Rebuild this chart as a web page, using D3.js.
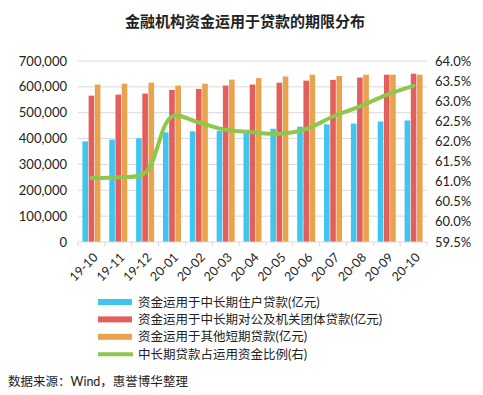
<!DOCTYPE html>
<html>
<head>
<meta charset="utf-8">
<script src="https://cdn.jsdelivr.net/npm/d3@7"></script>
<style>
body { margin: 0; background: #fff; }
text { font-family: Lato, "Noto Sans CJK SC", sans-serif; fill: #222; }
</style>
</head>
<body>
<svg></svg>
<script>
var width = 483,
    height = 395,
    margin = { top: 61, bottom: 153, left: 78, right: 56 }

var months = ["19-10", "19-11", "19-12", "20-01", "20-02", "20-03", "20-04", "20-05", "20-06", "20-07", "20-08", "20-09", "20-10"]
var household = [389000, 396000, 401000, 424000, 428000, 430000, 434000, 438000, 446000, 455000, 458000, 466000, 470000]
var corporate = [566000, 570000, 574000, 588000, 592000, 605000, 609000, 616000, 624000, 627000, 636000, 647000, 651000]
var shortTerm = [609000, 612000, 616000, 605000, 612000, 628000, 634000, 640000, 647000, 642000, 647000, 647000, 647000]
var ratio = [61.09, 61.11, 61.22, 62.62, 62.47, 62.29, 62.23, 62.19, 62.31, 62.62, 62.87, 63.16, 63.38]
var seriesNames = ["资金运用于中长期住户贷款(亿元)", "资金运用于中长期对公及机关团体贷款(亿元)", "资金运用于其他短期贷款(亿元)", "中长期贷款占运用资金比例(右)"]
var colors = ["#3fc5f0", "#e35f5b", "#e9a34e", "#8dc74b"]

var svg = d3.select("svg").attr("width", width).attr("height", height)
var plotW = width - margin.left - margin.right,
    plotH = height - margin.top - margin.bottom

svg.append("text")
    .attr("x", 245).attr("y", 27)
    .attr("text-anchor", "middle")
    .style("font-size", "15px").style("font-weight", "bold")
    .text("金融机构资金运用于贷款的期限分布")

var g = svg.append("g").attr("transform", "translate(" + margin.left + "," + margin.top + ")")

var x = d3.scaleBand().domain(months).range([0, plotW])
var yL = d3.scaleLinear().domain([0, 700000]).range([plotH, 0])
var yR = d3.scaleLinear().domain([59.5, 64]).range([plotH, 0])

// grid
g.selectAll(".grid").data(yL.ticks(7).slice(1))
    .enter().append("line")
    .attr("x1", 0).attr("x2", plotW)
    .attr("y1", d => yL(d)).attr("y2", d => yL(d))
    .attr("stroke", "#d9d9d9").attr("stroke-width", 1)

// bars
var barW = 5.6, gap = 0.6
var series = [household, corporate, shortTerm]
series.forEach(function(vals, i) {
    g.selectAll(".bar" + i).data(vals)
        .enter().append("rect")
        .attr("x", (d, j) => x(months[j]) + x.bandwidth() / 2 + (i - 1) * (barW + gap) - barW / 2)
        .attr("y", d => yL(d))
        .attr("width", barW)
        .attr("height", d => plotH - yL(d))
        .attr("fill", colors[i])
})

// line
var line = d3.line()
    .x((d, j) => x(months[j]) + x.bandwidth() / 2)
    .y(d => yR(d))
    .curve(d3.curveCatmullRom.alpha(0.5))
g.append("path").datum(ratio)
    .attr("d", line)
    .attr("fill", "none")
    .attr("stroke", colors[3])
    .attr("stroke-width", 4)
    .attr("stroke-linecap", "round")

// x axis
var xAxis = g.append("g").attr("transform", "translate(0," + plotH + ")")
xAxis.append("line").attr("x1", 0).attr("x2", plotW).attr("stroke", "#d9d9d9")
xAxis.selectAll(".tk").data(months.concat(["end"]))
    .enter().append("line")
    .attr("x1", (d, j) => j * x.bandwidth()).attr("x2", (d, j) => j * x.bandwidth())
    .attr("y1", 0).attr("y2", 4).attr("stroke", "#d9d9d9")
xAxis.selectAll(".lbl").data(months)
    .enter().append("text")
    .attr("transform", d => "translate(" + (x(d) + x.bandwidth() / 2 + 1) + ",10) rotate(-45)")
    .attr("text-anchor", "end")
    .attr("dy", "0.7em")
    .style("font-size", "12.5px")
    .text(d => d)

// left axis labels
g.selectAll(".ly").data(yL.ticks(7))
    .enter().append("text")
    .attr("x", -11).attr("y", d => yL(d))
    .attr("dy", "0.35em")
    .attr("text-anchor", "end")
    .style("font-size", "13px")
    .text(d3.format(","))

// right axis labels
g.selectAll(".ry").data(d3.range(59.5, 64.01, 0.5))
    .enter().append("text")
    .attr("x", plotW + 8).attr("y", d => yR(d))
    .attr("dy", "0.35em")
    .style("font-size", "13px")
    .text(d => d.toFixed(1) + "%")

// legend
var leg = svg.append("g").attr("transform", "translate(98,302)")
seriesNames.forEach(function(name, i) {
    var row = leg.append("g").attr("transform", "translate(0," + (i * 17.4) + ")")
    if (i < 3) {
        row.append("rect").attr("x", 0).attr("y", -3).attr("width", 34).attr("height", 6).attr("fill", colors[i])
    } else {
        row.append("line").attr("x1", 0).attr("x2", 35).attr("y1", 0).attr("y2", 0)
            .attr("stroke", colors[i]).attr("stroke-width", 4)
    }
    row.append("text").attr("x", 40).attr("y", 0).attr("dy", "0.36em")
        .style("font-size", "12.5px").text(name)
})

svg.append("text")
    .attr("x", 8).attr("y", 381).attr("dy", "0.36em")
    .style("font-size", "12.5px")
    .text("数据来源：Wind，惠誉博华整理")
</script>
</body>
</html>
